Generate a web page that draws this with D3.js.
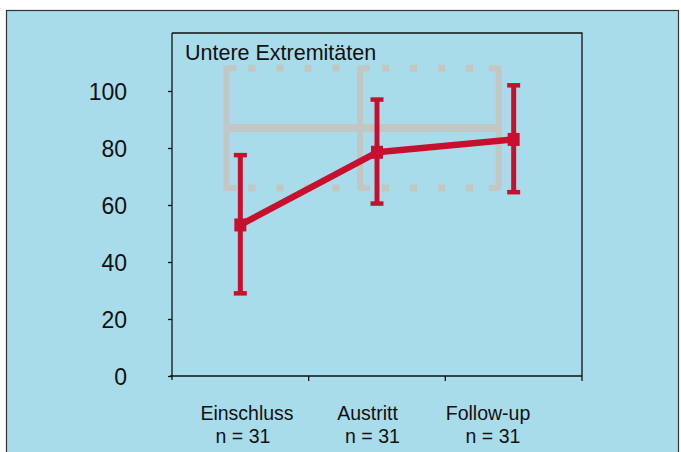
<!DOCTYPE html>
<html>
<head>
<meta charset="utf-8">
<script src="https://cdn.jsdelivr.net/npm/d3@7/dist/d3.min.js"></script>
<style>
  body { margin: 0; background: #fff; }
  svg text { font-family: "Liberation Sans", Arial, sans-serif; fill: #111; }
</style>
</head>
<body>
<svg id="chart" width="681" height="452"></svg>
<script>
// data
var categories = ["Einschluss", "Austritt", "Follow-up"];
var nLabels = ["n = 31", "n = 31", "n = 31"];
var means = [53, 78.5, 83];
var upper = [77.5, 97, 102];
var lower = [29, 60.5, 64.5];
var yTicks = [0, 20, 40, 60, 80, 100];
// grey norm range in the background (low, mean, high)
var normRange = [66, 87, 108];

var svg = d3.select("#chart");
var red = "#c8102e";

// light blue panel
svg.append("rect")
  .attr("x", 6.5).attr("y", 10.5)
  .attr("width", 672).attr("height", 450)
  .attr("fill", "#a9dcea")
  .attr("stroke", "#333").attr("stroke-width", 1.2);

var pLeft = 172, pRight = 582, pTop = 33, pBottom = 376;

var x = d3.scaleBand().domain(categories).range([pLeft, pRight]).padding(0);
var y = d3.scaleLinear().domain([0, 100]).range([pBottom, 91]);
// the category labels sit a bit closer together than the points
var xLab = d3.scalePoint().domain(categories).range([247, 488]);

// frame top + right
svg.append("path")
  .attr("d", "M" + pLeft + "," + pTop + "H" + pRight + "V" + pBottom)
  .attr("fill", "none").attr("stroke", "#111").attr("stroke-width", 1.3);

// y axis
var yAxis = svg.append("g")
  .attr("transform", "translate(" + pLeft + ",0)")
  .call(d3.axisLeft(y).tickValues(yTicks).tickSize(4).tickPadding(41));
yAxis.select(".domain").attr("d", "M0," + pTop + "V" + (pBottom + 4)).attr("stroke", "#111").attr("stroke-width", 1.3);
yAxis.selectAll(".tick line").attr("stroke", "#111").attr("stroke-width", 1.3);
yAxis.selectAll(".tick text").attr("font-size", 23).attr("fill", "#111").attr("dy", "0.36em")
  .attr("font-family", "Liberation Sans, Arial, sans-serif");

// x axis, ticks on band edges
svg.append("line")
  .attr("x1", pLeft - 2).attr("x2", pRight)
  .attr("y1", pBottom).attr("y2", pBottom)
  .attr("stroke", "#111").attr("stroke-width", 1.5);
var edges = categories.slice(1).map(function(c) { return x(c); }).concat([pRight]);
svg.selectAll(".xt").data(edges).enter().append("line")
  .attr("x1", function(d) { return d; }).attr("x2", function(d) { return d; })
  .attr("y1", pBottom).attr("y2", pBottom + 5)
  .attr("stroke", "#111").attr("stroke-width", 1.3);

svg.selectAll(".xl").data(categories).enter().append("text")
  .attr("x", function(d) { return xLab(d); })
  .attr("y", 420)
  .attr("text-anchor", "middle").attr("font-size", 19.5)
  .text(function(d) { return d; });
svg.selectAll(".xn").data(nLabels).enter().append("text")
  .attr("x", function(d, i) { return xLab(categories[i]) + (i === 0 ? -4 : 5); })
  .attr("y", 443)
  .attr("text-anchor", "middle").attr("font-size", 19.5)
  .text(function(d) { return d; });

// title
svg.append("text").attr("x", 185).attr("y", 60)
  .attr("font-size", 21.5).text("Untere Extremitäten");

// grey norm boxes
var bw = x.bandwidth();
var gx0 = x(categories[0]) + bw / 2 - 14;
var gx1 = x(categories[1]) + bw / 2 - 17;
var gx2 = x(categories[2]) + bw / 2 - 15;
var grey = svg.append("g").attr("stroke", "#c4c6c2").attr("fill", "none").attr("opacity", 0.95);
[[gx0, gx1], [gx1, gx2]].forEach(function(s) {
  grey.append("path")
    .attr("d", "M" + (s[0] + 10) + "," + y(normRange[2]) + "H" + s[0] + "V" + y(normRange[0]) + "H" + (s[0] + 10))
    .attr("stroke-width", 6).attr("stroke-linejoin", "round");
  grey.append("line")
    .attr("x1", s[0] + 22).attr("x2", s[1] - 4)
    .attr("y1", y(normRange[2])).attr("y2", y(normRange[2]))
    .attr("stroke-width", 7).attr("stroke-dasharray", "7 21");
  grey.append("line")
    .attr("x1", s[0] + 22).attr("x2", s[1] - 4)
    .attr("y1", y(normRange[0])).attr("y2", y(normRange[0]))
    .attr("stroke-width", 7).attr("stroke-dasharray", "7 21");
});
grey.append("path")
  .attr("d", "M" + (gx2 - 10) + "," + y(normRange[2]) + "H" + gx2 + "V" + y(normRange[0]) + "H" + (gx2 - 10))
  .attr("stroke-width", 6).attr("stroke-linejoin", "round");
grey.append("line")
  .attr("x1", gx0).attr("x2", gx2)
  .attr("y1", y(normRange[1])).attr("y2", y(normRange[1]))
  .attr("stroke-width", 8);

// error bars
var cx = function(i) { return x(categories[i]) + bw / 2; };
var eb = svg.append("g").attr("stroke", red);
means.forEach(function(m, i) {
  eb.append("line").attr("x1", cx(i)).attr("x2", cx(i))
    .attr("y1", y(upper[i])).attr("y2", y(lower[i])).attr("stroke-width", 5);
  [upper[i], lower[i]].forEach(function(v) {
    eb.append("line").attr("x1", cx(i) - 6.5).attr("x2", cx(i) + 6.5)
      .attr("y1", y(v)).attr("y2", y(v)).attr("stroke-width", 4.5);
  });
});

// mean line
svg.append("path")
  .datum(means)
  .attr("d", d3.line().x(function(d, i) { return cx(i); }).y(function(d) { return y(d); }))
  .attr("fill", "none").attr("stroke", red).attr("stroke-width", 6.5).attr("stroke-linejoin", "round");

svg.selectAll(".pt").data(means).enter().append("rect")
  .attr("x", function(d, i) { return cx(i) - 6; })
  .attr("y", function(d) { return y(d) - 6.5; })
  .attr("width", 12).attr("height", 13)
  .attr("fill", red);
</script>
</body>
</html>
